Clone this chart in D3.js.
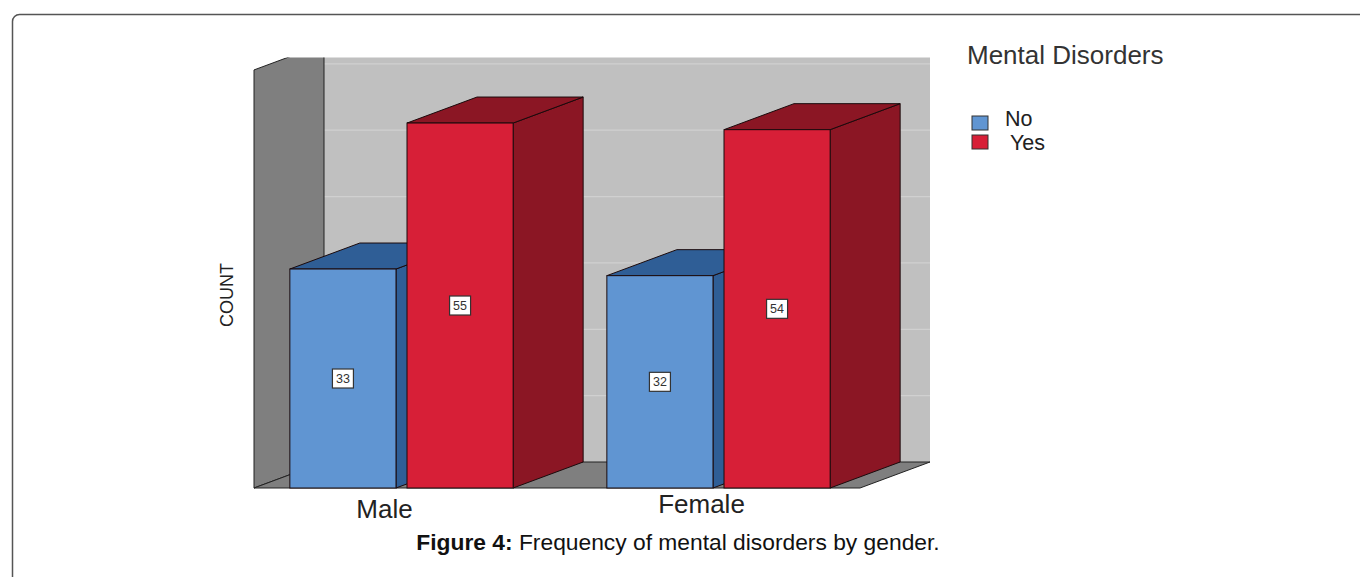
<!DOCTYPE html>
<html>
<head>
<meta charset="utf-8">
<script src="https://cdn.jsdelivr.net/npm/d3@7"></script>
<style>
  html, body { margin: 0; padding: 0; background: #fff; }
  svg { display: block; font-family: "Liberation Sans", Arial, sans-serif; }
</style>
</head>
<body>
<svg id="chart" width="1360" height="577"></svg>
<script>
// Counts of mental disorders by gender
const genders = ["Male", "Female"];
const disorders = ["No", "Yes"];
const noCounts = [33, 32];
const yesCounts = [55, 54];
const gridTicks = [10, 20, 30, 40, 50, 60];
const yAxisTitle = "COUNT";
const legendTitle = "Mental Disorders";
const captionBold = "Figure 4:";
const captionText = " Frequency of mental disorders by gender.";

const frontColor = { No: "#6095d2", Yes: "#d71f37" };
const sideColor = { No: "#2f5e96", Yes: "#8b1624" };

const svg = d3.select("#chart");

// Page frame with rounded corner
svg.append("rect")
  .attr("x", 12.5).attr("y", 14.5)
  .attr("width", 1400).attr("height", 600)
  .attr("rx", 7)
  .attr("fill", "none")
  .attr("stroke", "#555")
  .attr("stroke-width", 1.5);

// Scales
const y = d3.scaleLinear().domain([0, 70]).range([488, 23.5]);
const x0 = d3.scaleBand().domain(genders).range([243, 877]);
const x1 = d3.scaleBand().domain(disorders).range([0, x0.bandwidth()])
  .paddingInner(0.094).paddingOuter(0.40);

// Depth offset of the 3D projection
const dx = 70, dy = -26;
const wallTop = 63;
const floorLeft = 254, floorRight = 860;

const defs = svg.append("defs");
defs.append("clipPath").attr("id", "plotClip")
  .append("rect").attr("x", 0).attr("y", 57.5).attr("width", 1360).attr("height", 520);

const plot = svg.append("g").attr("clip-path", "url(#plotClip)");
const pts = p => p.map(d => d.join(",")).join(" ");

// Back wall
plot.append("polygon")
  .attr("points", pts([
    [floorLeft + dx, y(wallTop) + dy], [floorRight + dx, y(wallTop) + dy],
    [floorRight + dx, y(0) + dy], [floorLeft + dx, y(0) + dy]
  ]))
  .attr("fill", "#c0c0c0");

// Grid lines on the back wall
plot.selectAll("line.grid").data(gridTicks).join("line")
  .attr("class", "grid")
  .attr("x1", floorLeft + dx).attr("x2", floorRight + dx)
  .attr("y1", d => y(d) + dy).attr("y2", d => y(d) + dy)
  .attr("stroke", "#d0d0d0").attr("stroke-width", 1.2);

// Left wall
plot.append("polygon")
  .attr("points", pts([
    [floorLeft, y(wallTop)], [floorLeft + dx, y(wallTop) + dy],
    [floorLeft + dx, y(0) + dy], [floorLeft, y(0)]
  ]))
  .attr("fill", "#7f7f7f")
  .attr("stroke", "#222").attr("stroke-width", 1);

// Floor
plot.append("polygon")
  .attr("points", pts([
    [floorLeft, y(0)], [floorLeft + dx, y(0) + dy],
    [floorRight + dx, y(0) + dy], [floorRight, y(0)]
  ]))
  .attr("fill", "#7f7f7f")
  .attr("stroke", "#222").attr("stroke-width", 1);

// Bars
const bars = [];
genders.forEach((g, i) => {
  bars.push({ gender: g, key: "No", value: noCounts[i] });
  bars.push({ gender: g, key: "Yes", value: yesCounts[i] });
});

const barG = plot.selectAll("g.bar").data(bars).join("g").attr("class", "bar");
barG.each(function(d) {
  const g = d3.select(this);
  const xl = x0(d.gender) + x1(d.key);
  const xr = xl + x1.bandwidth();
  const yt = y(d.value), yb = y(0);
  // side face
  g.append("polygon")
    .attr("points", pts([[xr, yt], [xr + dx, yt + dy], [xr + dx, yb + dy], [xr, yb]]))
    .attr("fill", sideColor[d.key]).attr("stroke", "#1b0a0c").attr("stroke-width", 1);
  // top face
  g.append("polygon")
    .attr("points", pts([[xl, yt], [xl + dx, yt + dy], [xr + dx, yt + dy], [xr, yt]]))
    .attr("fill", sideColor[d.key]).attr("stroke", "#1b0a0c").attr("stroke-width", 1);
  // front face
  g.append("rect")
    .attr("x", xl).attr("y", yt)
    .attr("width", xr - xl).attr("height", yb - yt)
    .attr("fill", frontColor[d.key]).attr("stroke", "#1b0a0c").attr("stroke-width", 1);
  // value label
  const cx = (xl + xr) / 2, cy = (yt + yb) / 2;
  g.append("rect")
    .attr("x", cx - 10.5).attr("y", cy - 9.5)
    .attr("width", 21).attr("height", 19)
    .attr("fill", "#fff").attr("stroke", "#333").attr("stroke-width", 1.2);
  g.append("text")
    .attr("x", cx).attr("y", cy + 4.5)
    .attr("text-anchor", "middle")
    .attr("font-size", 12.5).attr("fill", "#333")
    .text(d.value);
});

// Category labels
svg.selectAll("text.cat").data(genders).join("text")
  .attr("class", "cat")
  .attr("x", d => x0(d) + x0.bandwidth() / 2 - 17)
  .attr("y", (d, i) => 518 - 5 * i)
  .attr("text-anchor", "middle")
  .attr("font-size", 26).attr("fill", "#222")
  .text(d => d);

// Y axis title
svg.append("text")
  .attr("transform", "translate(233,295) rotate(-90)")
  .attr("text-anchor", "middle")
  .attr("font-size", 18).attr("fill", "#222")
  .text(yAxisTitle);

// Legend
svg.append("text")
  .attr("x", 967).attr("y", 64)
  .attr("font-size", 26).attr("fill", "#333")
  .text(legendTitle);

const legend = svg.selectAll("g.legend").data(disorders).join("g").attr("class", "legend");
legend.append("rect")
  .attr("x", 972).attr("y", (d, i) => 116 + i * 19)
  .attr("width", 16).attr("height", 14)
  .attr("fill", d => frontColor[d]).attr("stroke", "#333").attr("stroke-width", 1);
legend.append("text")
  .attr("x", (d, i) => 1005 + i * 5).attr("y", (d, i) => 126 + i * 24)
  .attr("font-size", 21.5).attr("fill", "#222")
  .text(d => d);

// Caption
const cap = svg.append("text")
  .attr("x", 678).attr("y", 550)
  .attr("text-anchor", "middle")
  .attr("font-size", 22.8).attr("fill", "#111");
cap.append("tspan").attr("font-weight", "bold").text(captionBold);
cap.append("tspan").text(captionText);
</script>
</body>
</html>
